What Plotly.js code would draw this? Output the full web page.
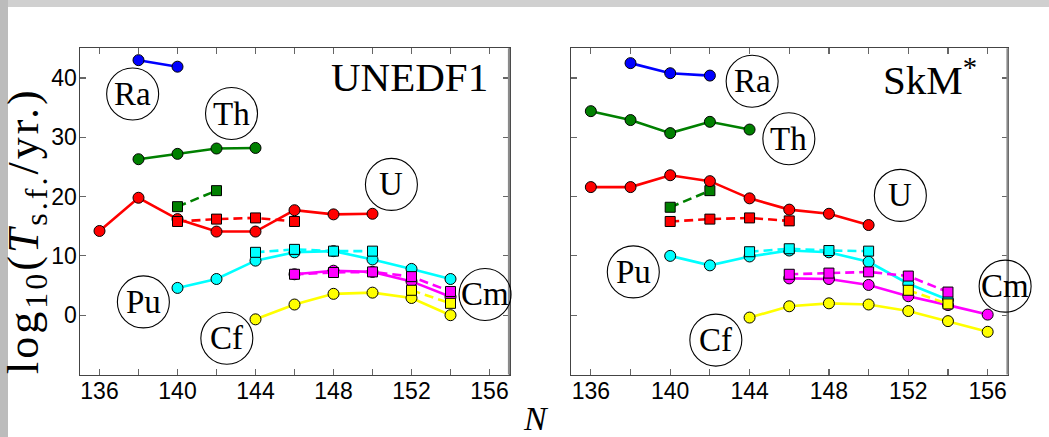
<!DOCTYPE html>
<html>
<head>
<meta charset="utf-8">
<script src="https://cdn.plot.ly/plotly-3.0.1.min.js"></script>
<style>
html,body{margin:0;padding:0;background:#fff;}
#chart{width:1049px;height:437px;}
g.annotation[data-index="14"] text{letter-spacing:3px;}
</style>
</head>
<body>
<div id="chart"></div>
<script>
// ---------- data: UNEDF1 panel (left) ----------
const uRaN = [138, 140];                       const uRaC = [43.0, 41.9];
const uThN = [138, 140, 142, 144];             const uThC = [26.3, 27.2, 28.1, 28.2];
const uThSqN = [140, 142];                     const uThSq = [18.3, 21.0];
const uUN = [136, 138, 140, 142, 144, 146, 148, 150];
const uUC = [14.2, 19.8, 16.2, 14.1, 14.1, 17.7, 17.0, 17.1];
const uUSqN = [140, 142, 144, 146];            const uUSq = [15.8, 16.2, 16.4, 15.8];
const uPuN = [140, 142, 144, 146, 148, 150, 152, 154];
const uPuC = [4.6, 6.1, 9.2, 10.6, 10.8, 9.4, 7.8, 6.1];
const uPuSqN = [144, 146, 148, 150];           const uPuSq = [10.6, 11.1, 10.8, 10.8];
const uCmN = [146, 148, 150, 152, 154];        const uCmC = [6.9, 7.5, 7.3, 5.7, 3.1];
const uCmSqN = [146, 148, 150, 152, 154];      const uCmSq = [6.9, 7.2, 7.3, 6.5, 4.0];
const uCfN = [144, 146, 148, 150, 152, 154];   const uCfC = [-0.7, 1.8, 3.6, 3.8, 2.9, 0.0];
const uCfSqN = [152, 154];                     const uCfSq = [4.2, 2.0];

// ---------- data: SkM* panel (right) ----------
const sRaN = [138, 140, 142];                  const sRaC = [42.5, 40.8, 40.4];
const sThN = [136, 138, 140, 142, 144];        const sThC = [34.4, 32.9, 30.7, 32.6, 31.3];
const sThSqN = [140, 142];                     const sThSq = [18.2, 21.0];
const sUN = [136, 138, 140, 142, 144, 146, 148, 150];
const sUC = [21.6, 21.6, 23.6, 22.6, 19.7, 17.8, 17.1, 15.2];
const sUSqN = [140, 142, 144, 146];            const sUSq = [15.8, 16.2, 16.4, 15.9];
const sPuN = [140, 142, 144, 146, 148, 150, 152, 154];
const sPuC = [10.0, 8.4, 9.9, 10.9, 10.6, 9.0, 5.3, 2.6];
const sPuSqN = [144, 146, 148, 150];           const sPuSq = [10.7, 11.2, 10.9, 10.8];
const sCmN = [146, 148, 150, 152, 154, 156];   const sCmC = [6.2, 6.1, 5.1, 3.2, 1.7, 0.1];
const sCmSqN = [146, 148, 150, 152, 154];      const sCmSq = [6.9, 7.1, 7.3, 6.6, 3.9];
const sCfN = [144, 146, 148, 150, 152, 154, 156];
const sCfC = [-0.4, 1.5, 2.0, 1.8, 0.7, -1.0, -2.8];
const sCfSqN = [152, 154];                     const sCfSq = [4.2, 1.9];

// ---------- tick labels / text ----------
const xTickVals = [136, 140, 144, 148, 152, 156];
const xTickText = ['136', '140', '144', '148', '152', '156'];
const xMinorVals = [138, 142, 146, 150, 154];
const yTickVals = [0, 10, 20, 30, 40];
const labelNames = ['Ra', 'Th', 'U', 'Pu', 'Cf', 'Cm'];
const uLabelN = [137.7, 142.77, 150.97, 138.25, 142.53, 155.77];
const uLabelV = [37.3, 34.0, 22.05, 2.24, -3.9, 3.5];
const sLabelN = [144.13, 145.98, 151.6, 138.14, 142.3, 156.88];
const sLabelV = [39.45, 29.75, 20.2, 7.3, -4.2, 4.9];
const panelTitles = ['UNEDF1', 'SkM<sup>*</sup>'];

// ---------- styling ----------
const W = 1049, H = 437;
const xRange = [135, 157], yRange = [-10, 45];
const xDomL = [80 / W, 509 / W], xDomR = [571 / W, 1007.5 / W];
const yDom = [1 - 374.5 / H, 1 - 48.3 / H];
const colors = {Ra: '#0000ff', Th: '#008000', U: '#ff0000', Pu: '#00ffff', Cm: '#ff00ff', Cf: '#ffff00'};

function circ(x, y, col, xa, ya) {
  return {x: x, y: y, xaxis: xa, yaxis: ya, type: 'scatter', mode: 'lines+markers',
    line: {color: col, width: 2.6},
    marker: {symbol: 'circle', size: 11, color: col, line: {color: '#000', width: 1}},
    hoverinfo: 'skip'};
}
function sq(x, y, col, xa, ya) {
  return {x: x, y: y, xaxis: xa, yaxis: ya, type: 'scatter', mode: 'lines+markers',
    line: {color: col, width: 2.6, dash: '9px,5px'},
    marker: {symbol: 'square', size: 10, color: col, line: {color: '#000', width: 1}},
    hoverinfo: 'skip'};
}

const traces = [
  circ(uRaN, uRaC, colors.Ra, 'x', 'y'),
  circ(uThN, uThC, colors.Th, 'x', 'y'), sq(uThSqN, uThSq, colors.Th, 'x', 'y'),
  circ(uUN, uUC, colors.U, 'x', 'y'), sq(uUSqN, uUSq, colors.U, 'x', 'y'),
  circ(uPuN, uPuC, colors.Pu, 'x', 'y'), sq(uPuSqN, uPuSq, colors.Pu, 'x', 'y'),
  circ(uCmN, uCmC, colors.Cm, 'x', 'y'), sq(uCmSqN, uCmSq, colors.Cm, 'x', 'y'),
  circ(uCfN, uCfC, colors.Cf, 'x', 'y'), sq(uCfSqN, uCfSq, colors.Cf, 'x', 'y'),

  circ(sRaN, sRaC, colors.Ra, 'x2', 'y2'),
  circ(sThN, sThC, colors.Th, 'x2', 'y2'), sq(sThSqN, sThSq, colors.Th, 'x2', 'y2'),
  circ(sUN, sUC, colors.U, 'x2', 'y2'), sq(sUSqN, sUSq, colors.U, 'x2', 'y2'),
  circ(sPuN, sPuC, colors.Pu, 'x2', 'y2'), sq(sPuSqN, sPuSq, colors.Pu, 'x2', 'y2'),
  circ(sCmN, sCmC, colors.Cm, 'x2', 'y2'), sq(sCmSqN, sCmSq, colors.Cm, 'x2', 'y2'),
  circ(sCfN, sCfC, colors.Cf, 'x2', 'y2'), sq(sCfSqN, sCfSq, colors.Cf, 'x2', 'y2')
];

const tickFont = {family: 'Liberation Sans, Arial, sans-serif', size: 23, color: '#000'};
function xAx(dom, anchor) {
  return {domain: dom, anchor: anchor, range: xRange, tickmode: 'array', tickvals: xTickVals, ticktext: xTickText,
    ticks: 'inside', ticklen: 6, tickwidth: 1.2, tickcolor: '#666', showline: true, linecolor: '#444', linewidth: 1.5,
    minor: {tickmode: 'array', tickvals: xMinorVals, ticks: 'inside', ticklen: 6, tickwidth: 1.2, tickcolor: '#666', showgrid: false},
    mirror: 'ticks', showgrid: false, zeroline: false, tickfont: tickFont, ticklabelstandoff: -5, fixedrange: true};
}
function yAx(dom, anchor, showLabels) {
  return {domain: dom, anchor: anchor, range: yRange, tickmode: 'array', tickvals: yTickVals,
    ticks: 'inside', ticklen: 6, tickwidth: 1.2, tickcolor: '#666', showline: true, linecolor: '#444', linewidth: 1.5,
    mirror: 'ticks', showgrid: false, zeroline: false, tickfont: tickFont, showticklabels: showLabels,
    ticklabelstandoff: -3, fixedrange: true};
}

function toPaper(n, v, xd) {
  return [xd[0] + (n - xRange[0]) / (xRange[1] - xRange[0]) * (xd[1] - xd[0]),
          yDom[0] + (v - yRange[0]) / (yRange[1] - yRange[0]) * (yDom[1] - yDom[0])];
}

const shapes = [
  {type: 'rect', xref: 'paper', yref: 'paper', x0: 0, x1: 1, y0: 1 - 7 / H, y1: 1, fillcolor: '#d0d0d0', line: {width: 0}},
  {type: 'rect', xref: 'paper', yref: 'paper', x0: 0, x1: 8 / W, y0: 0, y1: 1, fillcolor: '#bcbcbc', line: {width: 0}},
  {type: 'line', xref: 'paper', yref: 'paper', x0: xDomL[1], x1: xDomL[1], y0: yDom[0], y1: yDom[1], line: {color: '#8a8a8a', width: 2.2}},
  {type: 'line', xref: 'paper', yref: 'paper', x0: xDomR[1], x1: xDomR[1], y0: yDom[0], y1: yDom[1], line: {color: '#8a8a8a', width: 2.2}}
];
const annotations = [];
const labelFont = {family: 'Liberation Serif, Times New Roman, serif', size: 33, color: '#000'};
[[uLabelN, uLabelV, xDomL], [sLabelN, sLabelV, xDomR]].forEach(function (p) {
  labelNames.forEach(function (name, i) {
    const pp = toPaper(p[0][i], p[1][i], p[2]);
    shapes.push({type: 'circle', xref: 'paper', yref: 'paper', xsizemode: 'pixel', ysizemode: 'pixel',
      xanchor: pp[0], yanchor: pp[1], x0: -26, x1: 26, y0: -26, y1: 26, line: {color: '#000', width: 1.1}});
    annotations.push({xref: 'paper', yref: 'paper', x: pp[0], y: pp[1], xanchor: 'center', yanchor: 'middle',
      text: name, showarrow: false, font: labelFont});
  });
});
annotations.push({xref: 'paper', yref: 'paper', x: 409 / W, y: 1 - 77 / H, xanchor: 'center', yanchor: 'middle',
  text: panelTitles[0], showarrow: false, font: {family: 'Liberation Serif, serif', size: 41, color: '#000'}});
annotations.push({xref: 'paper', yref: 'paper', x: 930 / W, y: 1 - 77 / H, xanchor: 'center', yanchor: 'middle',
  text: panelTitles[1], showarrow: false, font: {family: 'Liberation Serif, serif', size: 41, color: '#000'}});
annotations.push({xref: 'paper', yref: 'paper', x: 27 / W, y: 1 - 231 / H, xanchor: 'center', yanchor: 'middle',
  textangle: -90,
  text: 'log<sub><span style="font-size:32px">10</span></sub>(<i>T</i><sub><span style="font-size:32px">s.f.</span></sub>/yr.)',
  showarrow: false, font: {family: 'Liberation Serif, serif', size: 44, color: '#000'}});
annotations.push({xref: 'paper', yref: 'paper', x: 536 / W, y: 1 - 418 / H, xanchor: 'center', yanchor: 'middle',
  text: '<i>N</i>', showarrow: false, font: {family: 'Liberation Serif, serif', size: 34, color: '#000'}});

const layout = {
  width: W, height: H, margin: {l: 0, r: 0, t: 0, b: 0, pad: 0},
  paper_bgcolor: '#ffffff', plot_bgcolor: '#ffffff', showlegend: false,
  xaxis: xAx(xDomL, 'y'), yaxis: yAx(yDom, 'x', true),
  xaxis2: xAx(xDomR, 'y2'), yaxis2: yAx(yDom, 'x2', false),
  shapes: shapes, annotations: annotations
};
Plotly.newPlot('chart', traces, layout, {staticPlot: true, displayModeBar: false});
</script>
</body>
</html>
